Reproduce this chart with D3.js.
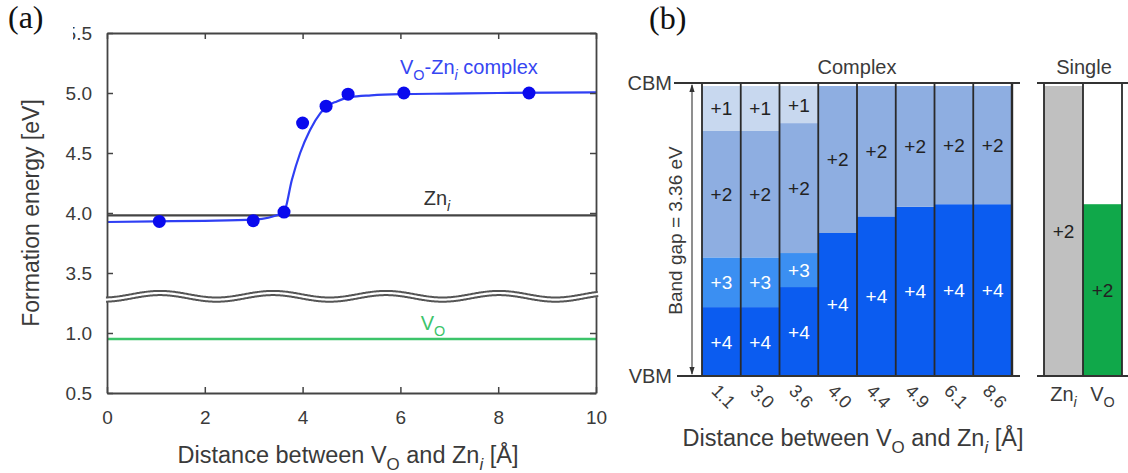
<!DOCTYPE html>
<html>
<head>
<meta charset="utf-8">
<script src="https://cdn.jsdelivr.net/npm/d3@7"></script>
<style>
  html, body { margin: 0; padding: 0; background: #fff; }
  svg { display: block; font-family: "Liberation Sans", Arial, Helvetica, sans-serif; }
</style>
</head>
<body>
<svg id="fig" width="1128" height="473"></svg>
<script>
// ---------- Panel (a): formation energy vs. V_O–Zn_i separation ----------
const complexDist   = [1.07, 2.99, 3.62, 4.0, 4.48, 4.93, 6.07, 8.63];
const complexEnergy = [3.93, 3.936, 4.008, 4.75, 4.89, 4.99, 5.0, 5.0];
// fitted curve through the complex energies
const fitDist   = [0, 1.0, 2.0, 3.0, 3.3, 3.5, 3.62, 3.78, 3.95, 4.15, 4.36, 4.5, 4.7, 4.97, 5.4, 6.0, 7.0, 8.0, 10.0];
const fitEnergy = [3.925, 3.93, 3.935, 3.945, 3.96, 3.985, 4.008, 4.275, 4.5, 4.69, 4.83, 4.89, 4.93, 4.965, 4.98, 4.99, 4.995, 5.0, 5.005];
const znEnergy = 3.98;   // isolated Zn_i
const voEnergy = 0.95;   // isolated V_O
const xTicks = [0, 2, 4, 6, 8, 10];
const yTicksUpper = [3.5, 4.0, 4.5, 5.0, 5.5];
const yTicksLower = [0.5, 1.0];

// ---------- Panel (b): charge-state stability across the gap ----------
const distLabels = ["1.1", "3.0", "3.6", "4.0", "4.4", "4.9", "6.1", "8.6"];
const bandGap = 3.36;
// upper edge (eV above VBM) of each charge state's stable range; null = not stable
const top4 = [0.79, 0.79, 1.02, 1.64, 1.83, 1.94, 1.97, 1.97];
const top3 = [1.36, 1.36, 1.41, null, null, null, null, null];
const top2 = [2.81, 2.81, 2.90, 3.36, 3.36, 3.36, 3.36, 3.36];
const top1 = [3.36, 3.36, 3.36, null, null, null, null, null];
const singleNames = ["Zn_i", "V_O"];
const singleTop2 = [3.36, 1.97];

const ink = "#3a3a3a";
const svg = d3.select("#fig");
const defs = svg.append("defs");

// text with subscripts: parts = [{t, sub, it}]
function rich(sel, parts, size) {
  const shift = size * 0.3;
  let inSub = false;
  parts.forEach(p => {
    const ts = sel.append("tspan").text(p.t);
    if (p.sub && !inSub) ts.attr("dy", shift);
    if (!p.sub && inSub) ts.attr("dy", -shift);
    if (p.sub) ts.attr("font-size", size * 0.72);
    if (p.it) ts.attr("font-style", "italic");
    inSub = !!p.sub;
  });
  return sel;
}
const titleParts = [
  {t: "Distance between V"}, {t: "O", sub: true}, {t: " and Zn"},
  {t: "i", sub: true, it: true}, {t: " [Å]"}
];

// ================= Panel (a) =================
const xA  = d3.scaleLinear([0, 10], [107, 596]);
const yUp = d3.scaleLinear([3.3, 5.5], [297, 33]);
const yLo = d3.scaleLinear([0.5, 1.3], [393, 297]);

const gA = svg.append("g");

// reference lines for the isolated defects
gA.append("line")
  .attr("x1", xA(0)).attr("x2", xA(10))
  .attr("y1", yUp(znEnergy)).attr("y2", yUp(znEnergy))
  .attr("stroke", "#444").attr("stroke-width", 2.2);
gA.append("line")
  .attr("x1", xA(0)).attr("x2", xA(10))
  .attr("y1", yLo(voEnergy)).attr("y2", yLo(voEnergy))
  .attr("stroke", "#3cc46a").attr("stroke-width", 2.6);

// fitted curve and complex points
gA.append("path")
  .datum(fitDist.map((d, i) => [d, fitEnergy[i]]))
  .attr("fill", "none").attr("stroke", "#2f3ff4").attr("stroke-width", 2.2)
  .attr("d", d3.line().x(d => xA(d[0])).y(d => yUp(d[1])).curve(d3.curveMonotoneX));
gA.selectAll("circle.pt")
  .data(complexDist.map((d, i) => [d, complexEnergy[i]]))
  .join("circle").attr("class", "pt")
  .attr("cx", d => xA(d[0])).attr("cy", d => yUp(d[1])).attr("r", 6.5)
  .attr("fill", "#0a0aee");

// axes (ticks point inward)
function styleAxis(g, labels) {
  g.selectAll(".domain").attr("stroke", "#444").attr("stroke-width", 1.8);
  g.selectAll(".tick line").attr("stroke", "#444").attr("stroke-width", 1.5);
  g.selectAll(".tick text").attr("fill", ink).attr("font-size", 19)
    .attr("font-family", "Liberation Sans, Arial, sans-serif");
  if (!labels) g.selectAll(".tick text").remove();
}
const fmt = d3.format(".1f");
const leftUp = gA.append("g").attr("transform", `translate(${xA(0)},0)`)
  .call(d3.axisLeft(yUp).tickValues(yTicksUpper).tickFormat(fmt).tickSize(-6).tickSizeOuter(0).tickPadding(15));
styleAxis(leftUp, true);
const leftLo = gA.append("g").attr("transform", `translate(${xA(0)},0)`)
  .call(d3.axisLeft(yLo).tickValues(yTicksLower).tickFormat(fmt).tickSize(-6).tickSizeOuter(0).tickPadding(15));
styleAxis(leftLo, true);
const rightUp = gA.append("g").attr("transform", `translate(${xA(10)},0)`)
  .call(d3.axisRight(yUp).tickValues(yTicksUpper).tickSize(-6).tickSizeOuter(0));
styleAxis(rightUp, false);
const rightLo = gA.append("g").attr("transform", `translate(${xA(10)},0)`)
  .call(d3.axisRight(yLo).tickValues(yTicksLower).tickSize(-6).tickSizeOuter(0));
styleAxis(rightLo, false);
const bottom = gA.append("g").attr("transform", `translate(0,${yLo(0.5)})`)
  .call(d3.axisBottom(xA).tickValues(xTicks).tickFormat(d3.format("d")).tickSize(-6).tickSizeOuter(0).tickPadding(18));
styleAxis(bottom, true);
const topAx = gA.append("g").attr("transform", `translate(0,${yUp(5.5)})`)
  .call(d3.axisTop(xA).tickValues(xTicks).tickSize(-6).tickSizeOuter(0));
styleAxis(topAx, false);

// the top tick label sits partly behind the panel edge
defs.append("clipPath").attr("id", "topLabelClip")
  .append("rect").attr("x", 73 - xA(0)).attr("y", -20).attr("width", 40).attr("height", 40);
leftUp.selectAll(".tick").filter(d => d === 5.5).attr("clip-path", "url(#topLabelClip)");

// axis break: double wavy line
const waveY = x => 296.3 - 3.3 * Math.cos(2 * Math.PI * (x - 160) / 113);
const wavePts = d3.range(xA(0) - 1, xA(10) + 3, 1).map(x => [x, waveY(x)]);
const waveLine = d3.line();
gA.append("path").attr("d", waveLine(wavePts)).attr("fill", "none")
  .attr("stroke", "#555").attr("stroke-width", 6.2);
gA.append("path").attr("d", waveLine(wavePts)).attr("fill", "none")
  .attr("stroke", "#fff").attr("stroke-width", 2.2);

// labels
rich(gA.append("text").attr("x", 400).attr("y", 74).attr("font-size", 20).attr("fill", "#3646f2"),
  [{t: "V"}, {t: "O", sub: true}, {t: "-Zn"}, {t: "i", sub: true, it: true}, {t: " complex"}], 20);
rich(gA.append("text").attr("x", 437).attr("y", 205).attr("text-anchor", "middle").attr("font-size", 20).attr("fill", "#333"),
  [{t: "Zn"}, {t: "i", sub: true, it: true}], 20);
rich(gA.append("text").attr("x", 433).attr("y", 330).attr("text-anchor", "middle").attr("font-size", 20).attr("fill", "#3cc46a"),
  [{t: "V"}, {t: "O", sub: true}], 20);

gA.append("text").attr("transform", "translate(39,213) rotate(-90)")
  .attr("text-anchor", "middle").attr("font-size", 23).attr("fill", ink)
  .text("Formation energy [eV]");
rich(gA.append("text").attr("x", 348).attr("y", 463).attr("text-anchor", "middle")
  .attr("font-size", 23.5).attr("fill", ink), titleParts, 23.5);

svg.append("text").attr("x", 8).attr("y", 28)
  .attr("font-family", "Liberation Serif, Times New Roman, serif")
  .attr("font-size", 32).attr("fill", "#111").text("(a)");

// ================= Panel (b) =================
const gB = svg.append("g");
const bx = d3.scaleBand(distLabels, [702, 1012]);
const by = d3.scaleLinear([0, bandGap], [376, 83]);
const sx = d3.scaleBand(singleNames, [1044, 1122]);
const topInset = 3;   // bars stop just below the CBM line
const yb = v => v >= bandGap ? by(v) + topInset : by(v);

const fills = {1: "#c8d8ef", 2: "#8eaee1", 3: "#3b8ff2", 4: "#0b5cf0"};
const labelFill = {1: "#222", 2: "#222", 3: "#fff", 4: "#fff"};
const levels = {4: top4, 3: top3, 2: top2, 1: top1};

const segments = [];
distLabels.forEach((d, i) => {
  let lo = 0;
  [4, 3, 2, 1].forEach(q => {
    const hi = levels[q][i];
    if (hi == null) return;
    segments.push({d, q, lo, hi});
    lo = hi;
  });
});

gB.selectAll("rect.seg").data(segments).join("rect").attr("class", "seg")
  .attr("x", s => bx(s.d)).attr("width", bx.bandwidth())
  .attr("y", s => yb(s.hi)).attr("height", s => yb(s.lo) - yb(s.hi))
  .attr("fill", s => fills[s.q]);
gB.selectAll("text.seg").data(segments).join("text").attr("class", "seg")
  .attr("x", s => bx(s.d) + bx.bandwidth() / 2)
  .attr("y", s => (yb(s.lo) + yb(s.hi)) / 2 + 7)
  .attr("text-anchor", "middle").attr("font-size", 19)
  .attr("fill", s => labelFill[s.q]).text(s => "+" + s.q);

// single defects
const singleFill = ["#c0c0c0", "#10a84a"];
singleNames.forEach((n, i) => {
  gB.append("rect").attr("x", sx(n)).attr("width", sx.bandwidth())
    .attr("y", yb(singleTop2[i])).attr("height", yb(0) - yb(singleTop2[i]))
    .attr("fill", singleFill[i]);
  gB.append("text").attr("x", sx(n) + sx.bandwidth() / 2)
    .attr("y", (yb(0) + yb(singleTop2[i])) / 2 + 7)
    .attr("text-anchor", "middle").attr("font-size", 19).attr("fill", "#222").text("+2");
});

// bar separators
const edgeLine = (x, w) => gB.append("line").attr("x1", x).attr("x2", x)
  .attr("y1", by(bandGap)).attr("y2", by(0)).attr("stroke", "#2a2a2a").attr("stroke-width", w);
distLabels.forEach(d => edgeLine(bx(d), 1.8));
edgeLine(bx.range()[1], 2.4);
singleNames.forEach(n => edgeLine(sx(n), 1.8));
edgeLine(sx.range()[1], 1.8);

// CBM / VBM lines
const hLine = (x1, x2, y) => gB.append("line").attr("x1", x1).attr("x2", x2)
  .attr("y1", y).attr("y2", y).attr("stroke", "#333").attr("stroke-width", 2);
hLine(674, 1020, by(bandGap));
hLine(677, 1020, by(0));
hLine(1037, 1128, by(bandGap));
hLine(1037, 1128, by(0));
gB.append("text").attr("x", 672).attr("y", by(bandGap) + 7).attr("text-anchor", "end")
  .attr("font-size", 20).attr("fill", ink).text("CBM");
gB.append("text").attr("x", 672).attr("y", by(0) + 7).attr("text-anchor", "end")
  .attr("font-size", 20).attr("fill", ink).text("VBM");

// band-gap double arrow
const ax = 692;
gB.append("line").attr("x1", ax).attr("x2", ax)
  .attr("y1", by(bandGap) + 2).attr("y2", by(0) - 2)
  .attr("stroke", "#333").attr("stroke-width", 1.1);
gB.append("path").attr("fill", "#333")
  .attr("d", `M${ax},${by(bandGap) + 1}L${ax - 2.6},${by(bandGap) + 9}L${ax + 2.6},${by(bandGap) + 9}Z`);
gB.append("path").attr("fill", "#333")
  .attr("d", `M${ax},${by(0) - 1}L${ax - 2.6},${by(0) - 9}L${ax + 2.6},${by(0) - 9}Z`);
gB.append("text").attr("transform", `translate(682,${(by(0) + by(bandGap)) / 2 + 1}) rotate(-90)`)
  .attr("text-anchor", "middle").attr("font-size", 19).attr("fill", ink)
  .text("Band gap = 3.36 eV");

// group headings
gB.append("text").attr("x", (bx.range()[0] + bx.range()[1]) / 2).attr("y", 74)
  .attr("text-anchor", "middle").attr("font-size", 20).attr("fill", ink).text("Complex");
gB.append("text").attr("x", 1084).attr("y", 74)
  .attr("text-anchor", "middle").attr("font-size", 20).attr("fill", ink).text("Single");

// distance tick labels, slanted
gB.selectAll("text.dist").data(distLabels).join("text").attr("class", "dist")
  .attr("transform", d => `translate(${bx(d) + bx.bandwidth() / 2 - 11},392) rotate(45)`)
  .attr("font-size", 18).attr("fill", ink).text(d => d);

rich(gB.append("text").attr("x", sx("Zn_i") + sx.bandwidth() / 2).attr("y", 401)
  .attr("text-anchor", "middle").attr("font-size", 20).attr("fill", ink),
  [{t: "Zn"}, {t: "i", sub: true, it: true}], 20);
rich(gB.append("text").attr("x", sx("V_O") + sx.bandwidth() / 2).attr("y", 401)
  .attr("text-anchor", "middle").attr("font-size", 20).attr("fill", ink),
  [{t: "V"}, {t: "O", sub: true}], 20);

rich(gB.append("text").attr("x", 853).attr("y", 446).attr("text-anchor", "middle")
  .attr("font-size", 23.5).attr("fill", ink), titleParts, 23.5);

svg.append("text").attr("x", 649).attr("y", 29)
  .attr("font-family", "Liberation Serif, Times New Roman, serif")
  .attr("font-size", 32).attr("fill", "#111").text("(b)");
</script>
</body>
</html>
